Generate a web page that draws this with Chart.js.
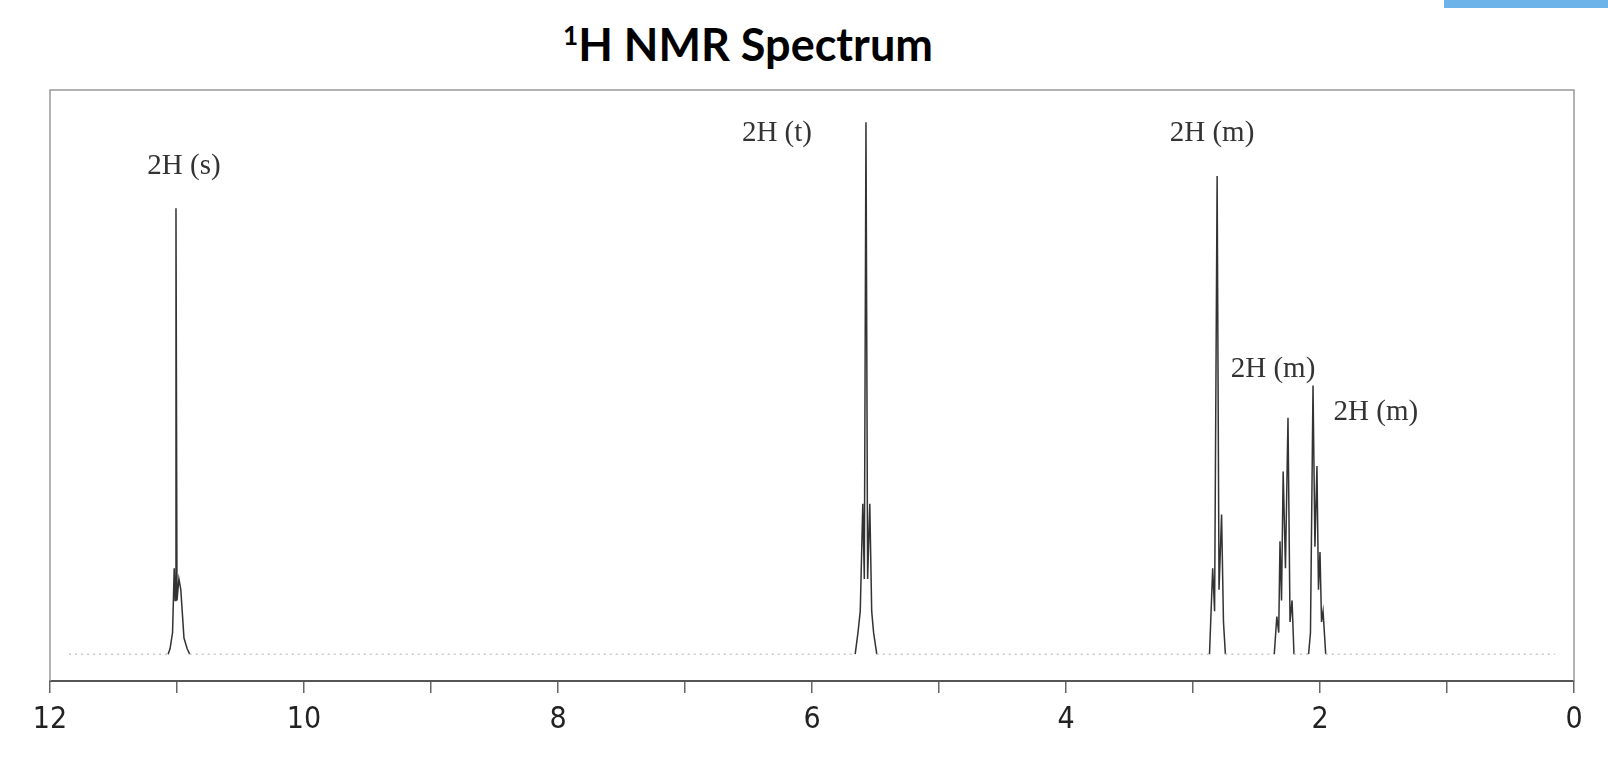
<!DOCTYPE html>
<html>
<head>
<meta charset="utf-8">
<script src="https://cdn.jsdelivr.net/npm/chart.js@4"></script>
<style>
  html, body { margin: 0; padding: 0; background: #fff; }
  #wrap { position: relative; width: 1608px; height: 763px; overflow: hidden; }
  #bar { position: absolute; left: 1444px; top: 0; width: 164px; height: 8px; background: #6bb3e8; }
  #title { position: absolute; left: 0; width: 1496px; top: 17px; text-align: center;
           font-family: Lato, "Open Sans", sans-serif; font-weight: bold; font-size: 45px; color: #000; }
  #title sup { font-size: 58%; vertical-align: 0.6em; line-height: 0; }
  canvas { position: absolute; left: 0; top: 0; }
</style>
</head>
<body>
<div id="wrap">
  <div id="bar"></div>
  <div id="title"><sup>1</sup>H NMR Spectrum</div>
  <canvas id="nmr" width="1608" height="763"></canvas>
</div>
<script>
// spectrum trace (ppm, relative intensity)
var shiftPpm = [
  11.85, 11.07, 11.055, 11.035, 11.022, 11.015, 11.008, 11.0, 10.985, 10.97, 10.945, 10.92, 10.9,
  5.66, 5.638, 5.62, 5.60, 5.588, 5.575, 5.562, 5.545, 5.53, 5.515, 5.49,
  2.87, 2.845, 2.83, 2.81, 2.795, 2.775, 2.76, 2.745,
  2.36, 2.34, 2.325, 2.315, 2.303, 2.29, 2.272, 2.252, 2.236, 2.22, 2.205,
  2.09, 2.075, 2.055, 2.04, 2.024, 2.012, 2.0, 1.988, 1.976, 1.955,
  0.15
];
var intensity = [
  0, 0, 1, 4, 16, 10, 83, 10, 14, 12, 3, 1, 0,
  0, 4, 8, 28, 14, 99, 14, 28, 8, 4, 0,
  0, 16, 8, 89, 12, 26, 6, 0,
  0, 7, 4, 21, 10, 34, 16, 44, 6, 10, 0,
  0, 4, 50, 20, 35, 12, 19, 6, 8, 0,
  0
];

// integration labels
var peakLabels = ['2H (s)', '2H (t)', '2H (m)', '2H (m)', '2H (m)'];
var labelPpm = [10.945, 6.276, 2.85, 2.37, 1.56];
var labelInt = [90.8, 97, 97, 53, 45];

var tickFont = '"Liberation Sans Narrow", "DejaVu Sans Condensed", sans-serif';

var points = shiftPpm.map(function(p, i) { return { x: p, y: intensity[i] }; });

// frame round the plot + peak labels
var nmrDecor = {
  id: 'nmrDecor',
  beforeDatasetsDraw: function(chart) {
    var a = chart.chartArea, ctx = chart.ctx;
    ctx.save();
    ctx.strokeStyle = '#999';
    ctx.lineWidth = 1.5;
    ctx.beginPath();
    ctx.moveTo(a.left, a.bottom);
    ctx.lineTo(a.left, a.top);
    ctx.lineTo(a.right, a.top);
    ctx.lineTo(a.right, a.bottom);
    ctx.stroke();
    ctx.restore();
  },
  afterDatasetsDraw: function(chart) {
    var ctx = chart.ctx, xs = chart.scales.x, ys = chart.scales.y;
    ctx.save();
    ctx.font = '29px "Liberation Serif", "DejaVu Serif", serif';
    ctx.fillStyle = '#333';
    ctx.textAlign = 'center';
    ctx.textBaseline = 'middle';
    peakLabels.forEach(function(t, i) {
      ctx.fillText(t, xs.getPixelForValue(labelPpm[i]), ys.getPixelForValue(labelInt[i]));
    });
    ctx.restore();
  }
};

function isBase(c) { return c.p0.parsed.y === 0 && c.p1.parsed.y === 0; }

new Chart(document.getElementById('nmr'), {
  type: 'line',
  data: {
    datasets: [{
      data: points,
      borderColor: '#333',
      borderWidth: 1.5,
      pointRadius: 0,
      tension: 0,
      segment: {
        borderColor: function(c) { return isBase(c) ? '#c8c8c8' : undefined; },
        borderDash: function(c) { return isBase(c) ? [2, 4] : undefined; }
      }
    }]
  },
  options: {
    responsive: false,
    animation: false,
    layout: { padding: { left: 50, right: 34, top: 90, bottom: 0 } },
    plugins: { legend: { display: false }, tooltip: { enabled: false }, title: { display: false } },
    scales: {
      x: {
        type: 'linear',
        reverse: true,
        min: 0,
        max: 12,
        ticks: {
          stepSize: 1,
          autoSkip: false,
          maxRotation: 0,
          padding: 9,
          color: '#222',
          font: { family: tickFont, size: 30 },
          callback: function(v) { return v % 2 === 0 ? v : ''; }
        },
        grid: { drawOnChartArea: false, drawTicks: true, tickLength: 12, color: '#666', lineWidth: 1.5 },
        border: { display: true, color: '#555', width: 2 },
        afterFit: function(s) { s.height = 82; }
      },
      y: { display: false, min: -5, max: 105 }
    }
  },
  plugins: [nmrDecor]
});
</script>
</body>
</html>
